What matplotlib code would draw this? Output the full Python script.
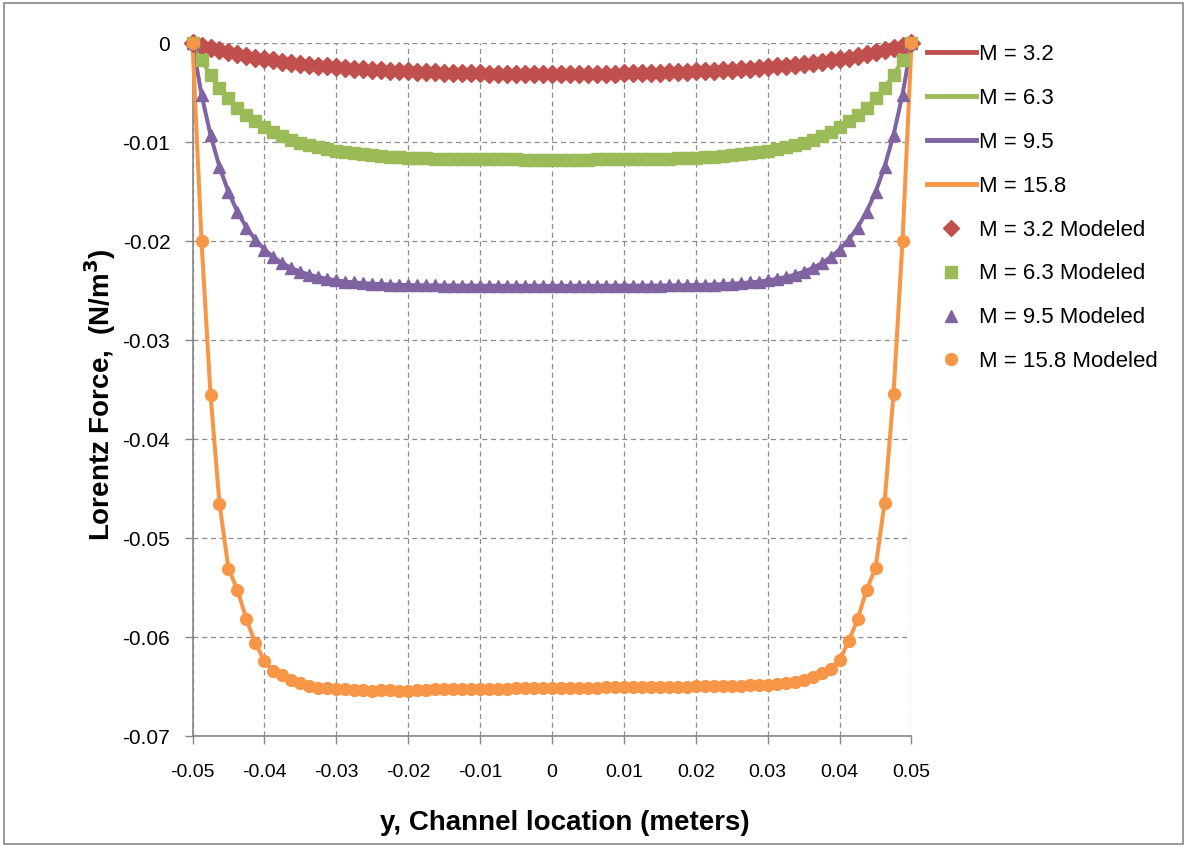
import numpy as np
import matplotlib
matplotlib.use("Agg")
import matplotlib.pyplot as plt
from matplotlib.lines import Line2D
from matplotlib.patches import Rectangle

plt.rcParams['font.family'] = ['Liberation Sans', 'DejaVu Sans']

# channel coordinate, 81 nodes across the duct
y_loc = np.round(np.arange(81) * 0.00125 - 0.05, 5)

force_m32 = [
    0, -0.00026, -0.00050, -0.00072, -0.00092, -0.00111, -0.00128, -0.00144, -0.00159, -0.00172,
    -0.00185, -0.00196, -0.00207, -0.00217, -0.00226, -0.00234, -0.00242, -0.00249, -0.00255, -0.00261,
    -0.00267, -0.00272, -0.00276, -0.00280, -0.00284, -0.00288, -0.00291, -0.00294, -0.00296, -0.00299,
    -0.00301, -0.00303, -0.00304, -0.00306, -0.00307, -0.00308, -0.00309, -0.00309, -0.00310, -0.00310,
    -0.00310, -0.00310, -0.00310, -0.00309, -0.00309, -0.00308, -0.00307, -0.00306, -0.00304, -0.00303,
    -0.00301, -0.00299, -0.00296, -0.00294, -0.00291, -0.00288, -0.00284, -0.00280, -0.00276, -0.00272,
    -0.00267, -0.00261, -0.00255, -0.00249, -0.00242, -0.00234, -0.00226, -0.00217, -0.00207, -0.00196,
    -0.00185, -0.00172, -0.00159, -0.00144, -0.00128, -0.00111, -0.00092, -0.00072, -0.00050, -0.00026,
    0]

force_m63 = [
    0, -0.0017, -0.0032, -0.0045, -0.0055, -0.0065, -0.0072, -0.0079, -0.0085, -0.0090,
    -0.0094, -0.0098, -0.0101, -0.0103, -0.0105, -0.0107, -0.0109, -0.0110, -0.0111, -0.0112,
    -0.0113, -0.0114, -0.0115, -0.0115, -0.0116, -0.0116, -0.0116, -0.0117, -0.0117, -0.0117,
    -0.0117, -0.0117, -0.0117, -0.0117, -0.0117, -0.0117, -0.0117, -0.0118, -0.0118, -0.0118,
    -0.0118, -0.0118, -0.0118, -0.0118, -0.0118, -0.0117, -0.0117, -0.0117, -0.0117, -0.0117,
    -0.0117, -0.0117, -0.0117, -0.0117, -0.0116, -0.0116, -0.0116, -0.0115, -0.0115, -0.0114,
    -0.0113, -0.0112, -0.0111, -0.0110, -0.0109, -0.0107, -0.0105, -0.0103, -0.0101, -0.0098,
    -0.0094, -0.0090, -0.0085, -0.0079, -0.0072, -0.0065, -0.0055, -0.0045, -0.0032, -0.0017,
    0]

force_m95 = [
    0, -0.00518, -0.00926, -0.01249, -0.01503, -0.01703, -0.01861, -0.01985, -0.02083, -0.02161,
    -0.02222, -0.02270, -0.02308, -0.02338, -0.02362, -0.02380, -0.02395, -0.02407, -0.02416, -0.02423,
    -0.02429, -0.02433, -0.02437, -0.02440, -0.02442, -0.02444, -0.02445, -0.02446, -0.02447, -0.02447,
    -0.02448, -0.02448, -0.02448, -0.02449, -0.02449, -0.02449, -0.02449, -0.02449, -0.02450, -0.02450,
    -0.02450, -0.02450, -0.02450, -0.02449, -0.02449, -0.02449, -0.02449, -0.02449, -0.02448, -0.02448,
    -0.02448, -0.02447, -0.02447, -0.02446, -0.02445, -0.02444, -0.02442, -0.02440, -0.02437, -0.02433,
    -0.02429, -0.02423, -0.02416, -0.02407, -0.02395, -0.02380, -0.02362, -0.02338, -0.02308, -0.02270,
    -0.02222, -0.02161, -0.02083, -0.01985, -0.01861, -0.01703, -0.01503, -0.01249, -0.00926, -0.00518,
    0]

force_m158 = [
    0, -0.0200, -0.0355, -0.0465, -0.0531, -0.0552, -0.0582, -0.0606, -0.0624, -0.0634,
    -0.0638, -0.0643, -0.0646, -0.0649, -0.0651, -0.0651, -0.0652, -0.0652, -0.0653, -0.0653,
    -0.0654, -0.0653, -0.0653, -0.0654, -0.0654, -0.0653, -0.0653, -0.0652, -0.0652, -0.0652,
    -0.0652, -0.0652, -0.0652, -0.0652, -0.0652, -0.0652, -0.0651, -0.0651, -0.0651, -0.0651,
    -0.0651, -0.0651, -0.0651, -0.0651, -0.0651, -0.0651, -0.0650, -0.0650, -0.0650, -0.0650,
    -0.0650, -0.0650, -0.0650, -0.0650, -0.0650, -0.0650, -0.0649, -0.0649, -0.0649, -0.0649,
    -0.0649, -0.0649, -0.0648, -0.0648, -0.0648, -0.0647, -0.0646, -0.0645, -0.0643, -0.0640,
    -0.0636, -0.0632, -0.0623, -0.0604, -0.0582, -0.0552, -0.0530, -0.0464, -0.0354, -0.0200,
    0]

hartmann = ['3.2', '6.3', '9.5', '15.8']
colors = ['#C0504D', '#9BBB59', '#8064A2', '#F79646']
markers = ['D', 's', '^', 'o']
msizes = [9.5, 9, 8.5, 8.5]
legend_ms = [8, 8, 8.5, 8.5]
series = [force_m32, force_m63, force_m95, force_m158]

x_ticks = [-0.05, -0.04, -0.03, -0.02, -0.01, 0, 0.01, 0.02, 0.03, 0.04, 0.05]
x_labels = ['-0.05', '-0.04', '-0.03', '-0.02', '-0.01', '0', '0.01', '0.02', '0.03', '0.04', '0.05']
y_ticks = [-0.07, -0.06, -0.05, -0.04, -0.03, -0.02, -0.01, 0]
y_labels = ['-0.07', '-0.06', '-0.05', '-0.04', '-0.03', '-0.02', '-0.01', '0']

fig = plt.figure(figsize=(11.87, 8.47), dpi=100)
ax = fig.add_axes([0.1622, 0.1307, 0.6057, 0.8182])

# solid lines first, modeled markers drawn on top
for vals, c in zip(series, colors):
    ax.plot(y_loc, vals, color=c, lw=2.9, solid_capstyle='round', zorder=3, clip_on=False)
for vals, c, m, s in zip(series, colors, markers, msizes):
    ax.plot(y_loc, vals, ls='none', marker=m, ms=s, color=c, mec=c, zorder=4, clip_on=False)

ax.set_xlim(-0.05, 0.05)
ax.set_ylim(-0.07, 0)
ax.set_xticks(x_ticks)
ax.set_xticklabels(x_labels, fontsize=14)
ax.set_yticks(y_ticks)
ax.set_yticklabels(y_labels, fontsize=15)
ax.tick_params(axis='both', direction='out', length=6, width=1, color='#868686', pad=10)
ax.tick_params(axis='x', pad=14)

ax.grid(True, color='#8c8c8c', ls=(0, (4, 3)), lw=0.9)
ax.set_axisbelow(True)
for side in ['top', 'right']:
    ax.spines[side].set_visible(False)
for side in ['left', 'bottom']:
    ax.spines[side].set_color('#868686')
    ax.spines[side].set_linewidth(1.2)

ax.set_xlabel('y, Channel location (meters)', fontsize=20, fontweight='bold')
ax.xaxis.set_label_coords(0.518, -0.106)
ax.set_ylabel('Lorentz Force,  (N/m$^\\mathbf{3}$)', fontsize=20, fontweight='bold')
ax.yaxis.set_label_coords(-0.104, 0.4925)

handles = []
labels = []
for h, c in zip(hartmann, colors):
    handles.append(Line2D([], [], color=c, lw=3.5))
    labels.append('M = ' + h)
for h, c, m, s in zip(hartmann, colors, markers, legend_ms):
    handles.append(Line2D([], [], ls='none', marker=m, ms=s, color=c))
    labels.append('M = ' + h + ' Modeled')
fig.legend(handles, labels, loc='upper left', bbox_to_anchor=(0.7807, 0.948),
           frameon=False, fontsize=16, handlelength=2.2, handletextpad=0.15,
           labelspacing=1.03, borderpad=0, borderaxespad=0)

fig.patches.append(Rectangle((0.003, 0.003), 0.994, 0.994, transform=fig.transFigure,
                             fill=False, edgecolor='#868686', lw=1.2))

fig.savefig('out.png', dpi=100)
